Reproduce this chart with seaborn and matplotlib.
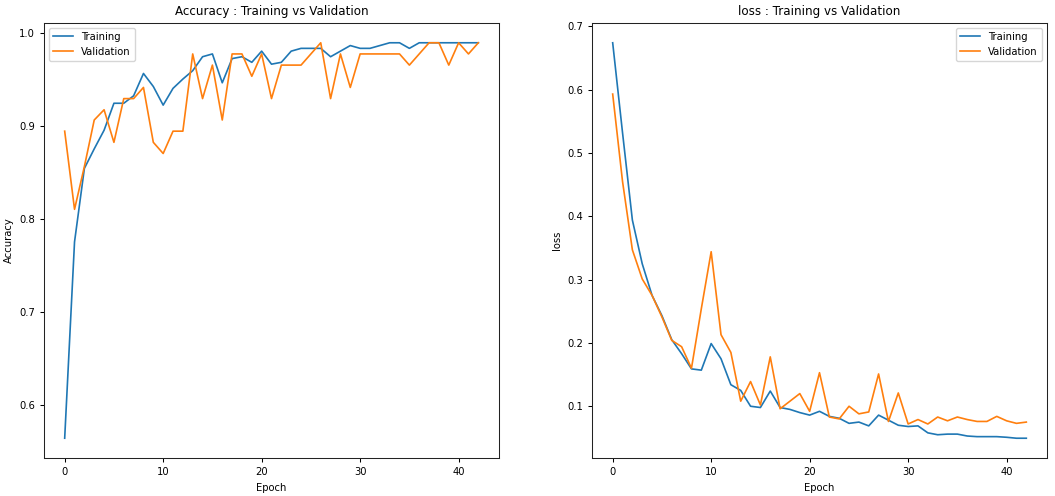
import numpy as np
import pandas as pd
import matplotlib
matplotlib.use("Agg")
import matplotlib.pyplot as plt
import seaborn as sns

# -------------------------
# Values
# -------------------------
epochs = list(range(43))

train_acc = [0.564, 0.775, 0.854, 0.875, 0.895, 0.924, 0.924, 0.932, 0.956, 0.942,
             0.922, 0.940, 0.950, 0.959, 0.974, 0.977, 0.946, 0.972, 0.974, 0.968,
             0.980, 0.966, 0.968, 0.980, 0.983, 0.983, 0.983, 0.974, 0.980, 0.986,
             0.983, 0.983, 0.986, 0.989, 0.989, 0.983, 0.989, 0.989, 0.989, 0.989,
             0.989, 0.989, 0.989]
val_acc = [0.894, 0.810, 0.856, 0.906, 0.917, 0.882, 0.929, 0.929, 0.941, 0.882,
           0.870, 0.894, 0.894, 0.977, 0.929, 0.965, 0.906, 0.977, 0.977, 0.953,
           0.977, 0.929, 0.965, 0.965, 0.965, 0.977, 0.989, 0.929, 0.977, 0.941,
           0.977, 0.977, 0.977, 0.977, 0.977, 0.965, 0.977, 0.989, 0.989, 0.965,
           0.989, 0.977, 0.989]

train_loss = [0.674, 0.532, 0.394, 0.325, 0.275, 0.243, 0.205, 0.183, 0.159, 0.157,
              0.199, 0.175, 0.134, 0.125, 0.100, 0.098, 0.124, 0.098, 0.095, 0.090,
              0.086, 0.092, 0.084, 0.081, 0.073, 0.075, 0.069, 0.086, 0.078, 0.070,
              0.068, 0.069, 0.058, 0.055, 0.056, 0.056, 0.053, 0.052, 0.052, 0.052,
              0.051, 0.0495, 0.0495]
val_loss = [0.593, 0.455, 0.347, 0.301, 0.275, 0.241, 0.204, 0.194, 0.160, 0.254,
            0.344, 0.213, 0.185, 0.108, 0.139, 0.102, 0.178, 0.096, 0.108, 0.120,
            0.092, 0.153, 0.083, 0.080, 0.100, 0.088, 0.091, 0.151, 0.076, 0.121,
            0.072, 0.079, 0.072, 0.083, 0.077, 0.083, 0.079, 0.076, 0.076, 0.084,
            0.077, 0.073, 0.075]

plt.rcParams["font.family"] = "DejaVu Sans"
plt.rcParams["font.size"] = 7.2
plt.rcParams["axes.linewidth"] = 0.75
plt.rcParams["axes.edgecolor"] = "#222222"
plt.rcParams["xtick.major.width"] = 0.75
plt.rcParams["ytick.major.width"] = 0.75
plt.rcParams["xtick.major.size"] = 3
plt.rcParams["ytick.major.size"] = 3

W, H = 1055, 496
fig = plt.figure(figsize=(W / 100, H / 100), dpi=100)
ax1 = fig.add_axes([44 / W, (H - 458) / H, 455 / W, 435 / H])
ax2 = fig.add_axes([592 / W, (H - 458) / H, 455 / W, 435 / H])

# ==========================
# Accuracy
# ==========================
sns.lineplot(x=epochs, y=train_acc, label="Training", color="tab:blue", linewidth=1.2, ax=ax1)
sns.lineplot(x=epochs, y=val_acc, label="Validation", color="tab:orange", linewidth=1.2, ax=ax1)
ax1.set_title("Accuracy : Training vs Validation", fontsize=8.6)
ax1.set_xlabel("Epoch")
ax1.set_ylabel("Accuracy")
ax1.legend(loc="upper left")

# ==========================
# Loss
# ==========================
sns.lineplot(x=epochs, y=train_loss, label="Training", color="tab:blue", linewidth=1.2, ax=ax2)
sns.lineplot(x=epochs, y=val_loss, label="Validation", color="tab:orange", linewidth=1.2, ax=ax2)
ax2.set_title("loss : Training vs Validation", fontsize=8.6)
ax2.set_xlabel("Epoch")
ax2.set_ylabel("loss")
ax2.legend(loc="upper right")

for ax in (ax1, ax2):
    ax.set_xticks([0, 10, 20, 30, 40])

fig.savefig("out.png", dpi=100)
